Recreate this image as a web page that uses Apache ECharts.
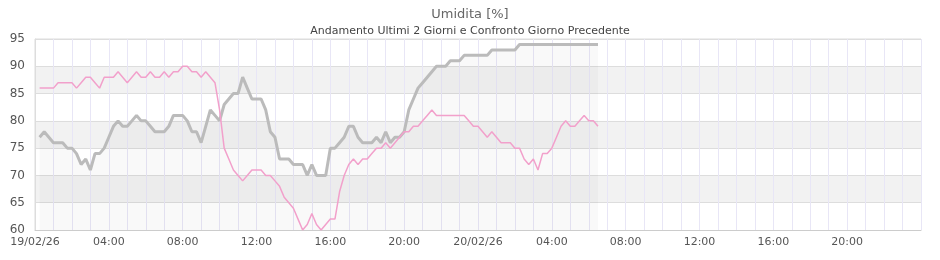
<!DOCTYPE html>
<html>
<head>
<meta charset="utf-8">
<script src="https://cdn.jsdelivr.net/npm/echarts@6/dist/echarts.min.js"></script>
<style>
html,body{margin:0;padding:0;background:#fff;}
#chart{width:940px;height:260px;}
</style>
</head>
<body>
<div id="chart"></div>
<script>
// Titles
const TITLE = "Umidita [%]";
const SUBTITLE = "Andamento Ultimi 2 Giorni e Confronto Giorno Precedente";

// Time base: hours from 19/02/26 00:00, samples every 15 minutes starting 00:15
const FIRST_HOUR = 0.25;
const STEP_HOURS = 0.25;

// Current humidity (gray line), 19/02/26 00:15 -> 20/02/26 06:30
const currentValues = [
  77,78,77,76,76,76,75,75,
  74,72,73,71,74,74,75,77,
  79,80,79,79,80,81,80,80,
  79,78,78,78,79,81,81,81,
  80,78,78,76,79,82,81,80,
  83,84,85,85,88,86,84,84,
  84,82,78,77,73,73,73,72,
  72,72,70,72,70,70,70,75,
  75,76,77,79,79,77,76,76,
  76,77,76,78,76,77,77,78,
  82,84,86,87,88,89,90,90,
  90,91,91,91,92,92,92,92,
  92,92,93,93,93,93,93,93,
  94,94,94,94,94,94,94,94,
  94,94,94,94,94,94,94,94,
  94,94
];

// Previous-day comparison (pink line)
const previousValues = [
  86,86,86,86,87,87,87,87,
  86,87,88,88,87,86,88,88,
  88,89,88,87,88,89,88,88,
  89,88,88,89,88,89,89,90,
  90,89,89,88,89,88,87,82,
  75,73,71,70,69,70,71,71,
  71,70,70,69,68,66,65,64,
  62,60,61,63,61,60,61,62,
  62,67,70,72,73,72,73,73,
  74,75,75,76,75,76,77,78,
  78,79,79,80,81,82,81,81,
  81,81,81,81,81,80,79,79,
  78,77,78,77,76,76,76,75,
  75,73,72,73,71,74,74,75,
  77,79,80,79,79,80,81,80,
  80,79
];

// Axis settings
const Y_MIN = 60, Y_MAX = 95, Y_STEP = 5;
const X_MIN = 0, X_MAX = 48;
const X_LABEL_EVERY = 4;
const DATE_LABELS = {0: "19/02/26", 24: "20/02/26"};

function pairs(vals) {
  return vals.map((v, i) => [FIRST_HOUR + i * STEP_HOURS, v]);
}
function pad(n){ return (n < 10 ? "0" : "") + n; }

const chart = echarts.init(document.getElementById('chart'), null, {renderer: 'canvas'});
const FONT = "DejaVu Sans";

chart.setOption({
  animation: false,
  backgroundColor: '#ffffff',
  title: [
    {text: TITLE, left: 'center', top: 3,
     textStyle: {fontFamily: FONT, fontSize: 13, fontWeight: 'normal', color: '#666666'}},
    {text: SUBTITLE, left: 'center', top: 21,
     textStyle: {fontFamily: FONT, fontSize: 11, fontWeight: 'normal', color: '#444444'}}
  ],
  grid: {left: 35, right: 19, top: 39, bottom: 30, show: true, borderColor: '#dddddd', borderWidth: 1, backgroundColor: 'transparent'},
  xAxis: {
    type: 'value', min: X_MIN, max: X_MAX, interval: 1,
    axisLine: {show: true, lineStyle: {color: '#cccccc'}},
    axisTick: {show: false},
    splitLine: {show: true, lineStyle: {color: '#e8e6f6', width: 1}},
    axisLabel: {
      fontFamily: FONT, fontSize: 11, color: '#555555', margin: 7, showMaxLabel: false,
      formatter: function (v) {
        if (v % X_LABEL_EVERY !== 0 || v >= X_MAX) return '';
        if (DATE_LABELS[v] !== undefined) return DATE_LABELS[v];
        return pad(v % 24) + ":00";
      }
    }
  },
  yAxis: {
    type: 'value', min: Y_MIN, max: Y_MAX, interval: Y_STEP,
    axisLine: {show: true, lineStyle: {color: '#dddddd'}},
    axisTick: {show: false},
    axisLabel: {fontFamily: FONT, fontSize: 12, color: '#555555', margin: 10},
    splitLine: {show: true, lineStyle: {color: '#dddddd', width: 1}},
    splitArea: {show: true, areaStyle: {color: ['#ffffff', '#f2f2f2']}}
  },
  series: [
    {
      name: 'Umidita', type: 'line', data: pairs(currentValues),
      showSymbol: false, symbol: 'none',
      lineStyle: {color: '#bbbbbb', width: 3},
      areaStyle: {color: 'rgba(0,0,0,0.03)', origin: 'start'},
      z: 3
    },
    {
      name: 'Giorno Precedente', type: 'line', data: pairs(previousValues),
      showSymbol: false, symbol: 'none',
      lineStyle: {color: '#f2a0cb', width: 1.5},
      z: 4
    }
  ]
});
</script>
</body>
</html>
